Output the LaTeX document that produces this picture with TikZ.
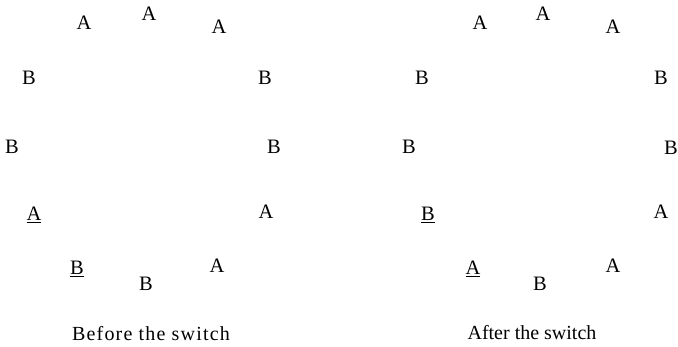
\documentclass[tikz,border=0pt]{standalone}
\usepackage{fontspec}
\setmainfont{Liberation Serif}
\tikzset{
  ltr/.style={anchor=base, inner sep=0pt, font=\fontsize{20.5}{24}\selectfont},
  captext/.style={anchor=base, inner sep=0pt, font=\fontsize{20}{24}\selectfont}
}
\begin{document}
\begin{tikzpicture}[x=1pt,y=-1pt]
\useasboundingbox (0,0) rectangle (678,347);
% Before
\node[ltr] (l1) at (84,30) {A};
\node[ltr] (l2) at (149,21) {A};
\node[ltr] (l3) at (219,34) {A};
\node[ltr] (l4) at (29,85) {B};
\node[ltr] (l5) at (265,85) {B};
\node[ltr] (l6) at (12,154) {B};
\node[ltr] (l7) at (274,154) {B};
\node[ltr] (l8) at (34,221) {\underline{A}};
\node[ltr] (l9) at (266,219) {A};
\node[ltr] (l10) at (77,275) {\underline{B}};
\node[ltr] (l11) at (217,273) {A};
\node[ltr] (l12) at (146,291) {B};
\node[captext] (c1) at (151,341) {\addfontfeature{LetterSpace=6}Before the switch};
% After
\node[ltr] (r1) at (480,30) {A};
\node[ltr] (r2) at (543,21) {A};
\node[ltr] (r3) at (613,34) {A};
\node[ltr] (r4) at (422,85) {B};
\node[ltr] (r5) at (661,85) {B};
\node[ltr] (r6) at (409,154) {B};
\node[ltr] (r7) at (671,155) {B};
\node[ltr] (r8) at (428,221) {\underline{B}};
\node[ltr] (r9) at (661,219) {A};
\node[ltr] (r10) at (473,275) {\underline{A}};
\node[ltr] (r11) at (613,273) {A};
\node[ltr] (r12) at (540,291) {B};
\node[captext] (c2) at (532,340) {After the switch};
\end{tikzpicture}
\end{document}
